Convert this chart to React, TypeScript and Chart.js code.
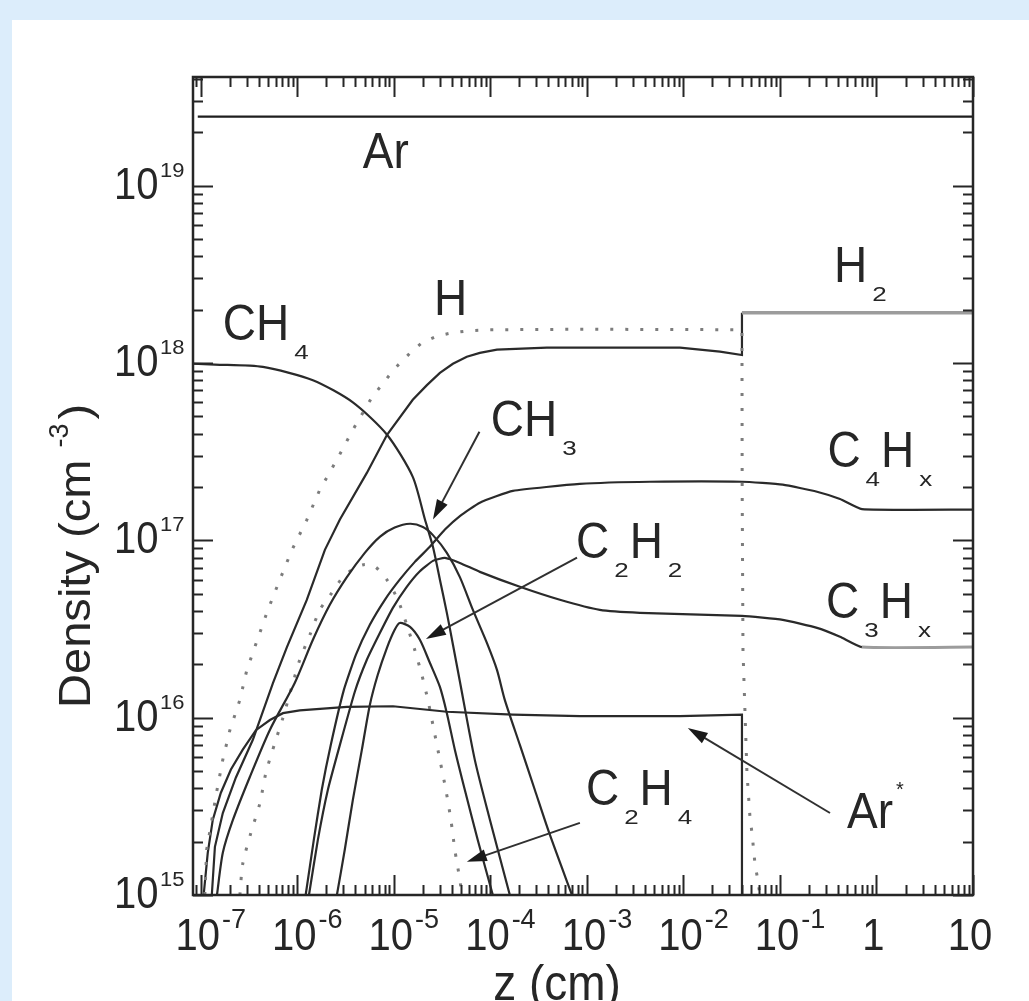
import { useEffect, useRef } from 'react';
import { Chart, registerables } from 'chart.js';

Chart.register(...registerables);

const FONT = '"Liberation Sans", Arial, Helvetica, sans-serif';
const INK = '#262626';

// ---- axis ranges & tick labels ----
const xMin = 8.3e-8;
const xMax = 10;
const yMin = 1e15;
const yMax = 4.1e19;

const xTickValues = [1e-7, 1e-6, 1e-5, 1e-4, 1e-3, 1e-2, 1e-1, 1, 10];
const xTickBases = ['10', '10', '10', '10', '10', '10', '10', '1', '10'];
const xTickExps = ['-7', '-6', '-5', '-4', '-3', '-2', '-1', '', ''];
const yTickValues = [1e15, 1e16, 1e17, 1e18, 1e19];
const yTickBases = ['10', '10', '10', '10', '10'];
const yTickExps = ['15', '16', '17', '18', '19'];

// ---- series (z in cm, density in cm^-3) ----
const arZ = [9.3e-8, 10];
const arN = [2.45e19, 2.45e19];

const hZ = [1.1e-7, 1.15e-7, 1.3e-7, 1.47e-7, 1.69e-7, 2.0e-7, 2.54e-7, 3.0e-7, 3.9e-7, 4.95e-7, 6.59e-7, 8.77e-7, 1.25e-6, 1.71e-6, 2.57e-6, 3.76e-6, 5.92e-6, 1.02e-5, 1.5e-5, 1.95e-5, 2.8e-5, 4.0e-5, 6.0e-5, 9.9e-5, 1e-3, 0.0404, 0.0406, 0.0414, 0.0455, 0.0489, 0.0513, 0.0551, 0.0592, 0.062];
const hN = [1e15, 1.8e15, 2.65e15, 3.9e15, 5.8e15, 8.5e15, 1.26e16, 1.86e16, 2.8e16, 4.05e16, 6e16, 8.8e16, 1.3e17, 1.93e17, 2.85e17, 4.2e17, 6.4e17, 9.3e17, 1.15e18, 1.3e18, 1.42e18, 1.48e18, 1.52e18, 1.54e18, 1.55e18, 1.54e18, 2.0e17, 2.4e16, 4.9e15, 2.75e15, 2.24e15, 1.5e15, 1.2e15, 1e15];

const h2Z = [1.3e-7, 1.4e-7, 1.69e-7, 2.31e-7, 3.46e-7, 5.6e-7, 7.8e-7, 1.25e-6, 1.93e-6, 2.76e-6, 5.25e-6, 8.5e-6, 1.57e-5, 2.2e-5, 3.0e-5, 4.09e-5, 5.7e-5, 7.78e-5, 1.17e-4, 3.85e-4, 9.2e-3, 0.0239, 0.0404, 0.0404, 10];
const h2N = [1e15, 1.87e15, 2.9e15, 4.6e15, 7.5e15, 1.57e16, 2.5e16, 4.6e16, 8.84e16, 1.31e17, 2.4e17, 3.94e17, 6.2e17, 7.5e17, 8.8e17, 9.9e17, 1.085e18, 1.14e18, 1.19e18, 1.22e18, 1.22e18, 1.16e18, 1.11e18, 1.92e18, 1.92e18];

const arsZ = [1.07e-7, 1.18e-7, 1.33e-7, 1.61e-7, 2.05e-7, 2.72e-7, 3.72e-7, 5.2e-7, 7.1e-7, 1.06e-6, 3.26e-6, 9.8e-6, 3.54e-5, 1.71e-4, 8.46e-4, 9.2e-3, 0.0404, 0.0404];
const arsN = [1e15, 1.73e15, 2.65e15, 3.76e15, 5.1e15, 6.6e15, 8.5e15, 9.7e15, 1.06e16, 1.1e16, 1.15e16, 1.16e16, 1.08e16, 1.04e16, 1.02e16, 1.02e16, 1.04e16, 1e15];

const ch4Z = [8.3e-8, 1.4e-7, 4.4e-7, 1.45e-6, 3.76e-6, 8.5e-6, 1.57e-5, 2.1e-5, 2.54e-5, 3.0e-5, 3.54e-5, 4.1e-5, 4.8e-5, 6.9e-5, 9.9e-5, 1.59e-4];
const ch4N = [9.9e17, 9.8e17, 9.5e17, 8.0e17, 6.0e17, 3.94e17, 2.28e17, 1.31e17, 9.2e16, 6.0e16, 3.9e16, 2.57e16, 1.63e16, 5.78e15, 2.65e15, 1e15];

const ch3Z = [1.47e-7, 1.69e-7, 2.15e-7, 3.22e-7, 5.19e-7, 9.4e-7, 1.45e-6, 2.17e-6, 3.26e-6, 5.0e-6, 7.2e-6, 1.02e-5, 1.47e-5, 2.0e-5, 2.54e-5, 3.54e-5, 4.83e-5, 6.59e-5, 9.2e-5, 1.17e-4, 1.41e-4, 2.02e-4, 2.89e-4, 4.14e-4, 7.0e-4];
const ch3N = [1e15, 1.73e15, 2.65e15, 4.63e15, 8.53e15, 1.57e16, 2.75e16, 4.33e16, 6.2e16, 8.5e16, 1.05e17, 1.18e17, 1.24e17, 1.19e17, 1.07e17, 8.5e16, 6.2e16, 4.05e16, 2.64e16, 1.86e16, 1.26e16, 7.02e15, 3.91e15, 2.18e15, 1e15];

const c2h2Z = [2.57e-6, 3.1e-6, 3.76e-6, 4.66e-6, 5.64e-6, 6.8e-6, 8.46e-6, 1.02e-5, 1.15e-5, 1.47e-5, 1.86e-5, 2.36e-5, 3.0e-5, 3.54e-5, 4.29e-5, 5.44e-5, 7.4e-5, 1.06e-4];
const c2h2N = [1e15, 1.8e15, 3.44e15, 6.58e15, 1.18e16, 1.74e16, 2.47e16, 3.13e16, 3.42e16, 3.25e16, 2.75e16, 2.04e16, 1.49e16, 1.06e16, 6.58e15, 3.91e15, 2.04e15, 1e15];

const c2h4Z = [2.54e-7, 2.72e-7, 3.3e-7, 4.1e-7, 4.72e-7, 5.85e-7, 7.1e-7, 9.0e-7, 1.06e-6, 1.35e-6, 1.71e-6, 2.28e-6, 2.96e-6, 3.94e-6, 5.0e-6, 6.4e-6, 8.46e-6, 1.1e-5, 1.36e-5, 1.65e-5, 1.95e-5, 2.25e-5, 2.6e-5, 3.0e-5, 3.46e-5, 3.9e-5, 4.29e-5, 4.83e-5, 5.07e-5];
const c2h4N = [1e15, 1.5e15, 2.24e15, 3.3e15, 4.88e15, 7.2e15, 1e16, 1.57e16, 2.12e16, 2.93e16, 4.05e16, 5.06e16, 6.2e16, 7.0e16, 7.3e16, 7.1e16, 6.0e16, 4.62e16, 3.34e16, 2.4e16, 1.74e16, 1.26e16, 8.53e15, 5.78e15, 3.91e15, 2.65e15, 1.79e15, 1.215e15, 1e15];

const c4Z = [1.22e-6, 1.48e-6, 1.79e-6, 2.22e-6, 3.03e-6, 4.04e-6, 5.64e-6, 8.07e-6, 1.15e-5, 1.65e-5, 2.36e-5, 3.38e-5, 4.83e-5, 7.78e-5, 1.71e-4, 8.46e-4, 4.5e-3, 0.0404, 0.107, 0.242, 0.419, 0.707, 10];
const c4N = [1e15, 2.04e15, 3.91e15, 7.02e15, 1.43e16, 2.26e16, 3.34e16, 4.62e16, 6.0e16, 7.56e16, 9.2e16, 1.15e17, 1.37e17, 1.63e17, 1.9e17, 2.08e17, 2.14e17, 2.14e17, 2.06e17, 1.88e17, 1.71e17, 1.5e17, 1.49e17];

const c3Z = [1.32e-6, 1.63e-6, 2.07e-6, 2.76e-6, 3.94e-6, 5.25e-6, 7.16e-6, 9.77e-6, 1.36e-5, 1.86e-5, 2.54e-5, 3.38e-5, 4.83e-5, 7.78e-5, 2.02e-4, 5.25e-4, 1.36e-3, 3.54e-3, 0.0404, 0.107, 0.242, 0.419, 0.707, 10];
const c3N = [1e15, 2.04e15, 3.91e15, 7.02e15, 1.4e16, 2.12e16, 3.0e16, 4.16e16, 5.47e16, 6.7e16, 7.66e16, 7.96e16, 7.46e16, 6.64e16, 5.47e16, 4.62e16, 4.05e16, 3.9e16, 3.75e16, 3.56e16, 3.21e16, 2.86e16, 2.5e16, 2.5e16];

// ---- in-plot labels (anchor = left end of text baseline, in data units) ----
type Part = [string, 'n' | 'b' | 'p'];
const labelParts: Part[][] = [
  [['Ar', 'n']],
  [['H', 'n']],
  [['CH', 'n'], ['4', 'b']],
  [['CH', 'n'], ['3', 'b']],
  [['H', 'n'], ['2', 'b']],
  [['C', 'n'], ['4', 'b'], ['H', 'n'], ['x', 'b']],
  [['C', 'n'], ['3', 'b'], ['H', 'n'], ['x', 'b']],
  [['C', 'n'], ['2', 'b'], ['H', 'n'], ['2', 'b']],
  [['C', 'n'], ['2', 'b'], ['H', 'n'], ['4', 'b']],
  [['Ar', 'n'], ['*', 'p']],
];
const labelZ = [4.77e-6, 2.6e-5, 1.69e-7, 1.01e-4, 0.363, 0.31, 0.30, 7.7e-4, 9.77e-4, 0.495];
const labelN = [1.25e19, 1.87e18, 1.34e18, 3.89e17, 2.85e18, 2.6e17, 3.65e16, 8.0e16, 3.22e15, 2.39e15];

// ---- arrows (tail -> head, data units) ----
const arrowFromZ = [7.7e-5, 7.9e-4, 8.46e-4, 0.33];
const arrowFromN = [4.1e17, 8.0e16, 2.55e15, 2.9e15];
const arrowToZ = [2.54e-5, 2.15e-5, 5.7e-5, 0.0111];
const arrowToN = [1.31e17, 2.78e16, 1.54e15, 8.75e15];

const zip = (xs: number[], ys: number[]) => xs.map((v, i) => ({ x: v, y: ys[i] }));

const PART: Record<string, { size: number; sy: number; dy: number; pre: number; post: number }> = {
  n: { size: 46, sy: 1.1, dy: 0, pre: 0, post: 0 },
  b: { size: 26, sy: 0.8, dy: 19, pre: 5, post: 1 },
  p: { size: 20, sy: 1, dy: -32, pre: 3, post: 0 },
};

function txt(ctx: CanvasRenderingContext2D, s: string, x: number, y: number, size: number, sx = 1, sy = 1) {
  ctx.font = `${size}px ${FONT}`;
  ctx.save();
  ctx.translate(x, y);
  ctx.scale(sx, sy);
  ctx.fillText(s, 0, 0);
  ctx.restore();
  return ctx.measureText(s).width * sx;
}

function arrow(ctx: CanvasRenderingContext2D, x1: number, y1: number, x2: number, y2: number) {
  const ang = Math.atan2(y2 - y1, x2 - x1);
  const L = 20;
  const W = 6;
  const bx = x2 - L * Math.cos(ang);
  const by = y2 - L * Math.sin(ang);
  ctx.beginPath();
  ctx.moveTo(x1, y1);
  ctx.lineTo(bx + 2 * Math.cos(ang), by + 2 * Math.sin(ang));
  ctx.stroke();
  ctx.beginPath();
  ctx.moveTo(x2, y2);
  ctx.lineTo(bx + W * Math.sin(ang), by - W * Math.cos(ang));
  ctx.lineTo(bx - W * Math.sin(ang), by + W * Math.cos(ang));
  ctx.closePath();
  ctx.fill();
}

const decorPlugin = {
  id: 'decor',
  afterDatasetsDraw(chart: any) {
    const ctx: CanvasRenderingContext2D = chart.ctx;
    const a = chart.chartArea;
    const xs = chart.scales.x;
    const ys = chart.scales.y;
    ctx.save();
    ctx.strokeStyle = INK;
    ctx.fillStyle = INK;
    ctx.lineCap = 'butt';

    // frame
    ctx.lineWidth = 2.5;
    ctx.strokeRect(a.left, a.top, a.right - a.left, a.bottom - a.top);

    // inward ticks on all four sides
    ctx.lineWidth = 2;
    ctx.beginPath();
    for (let d = Math.floor(Math.log10(xMin)); d <= Math.ceil(Math.log10(xMax)); d++) {
      for (let m = 1; m <= 9; m++) {
        const v = m * Math.pow(10, d);
        if (v < xMin * 0.999 || v > xMax * 1.001) continue;
        const px = Math.round(xs.getPixelForValue(v)) + 0.5;
        const len = m === 1 ? 20 : 10;
        ctx.moveTo(px, a.top);
        ctx.lineTo(px, a.top + len);
        ctx.moveTo(px, a.bottom);
        ctx.lineTo(px, a.bottom - len);
      }
    }
    for (let d = Math.floor(Math.log10(yMin)); d <= Math.ceil(Math.log10(yMax)); d++) {
      for (let m = 1; m <= 9; m++) {
        const v = m * Math.pow(10, d);
        if (v < yMin * 0.999 || v > yMax * 1.001) continue;
        const py = Math.round(ys.getPixelForValue(v)) + 0.5;
        const len = m === 1 ? 20 : 10;
        ctx.moveTo(a.left, py);
        ctx.lineTo(a.left + len, py);
        ctx.moveTo(a.right, py);
        ctx.lineTo(a.right - len, py);
      }
    }
    ctx.stroke();

    // tick labels
    ctx.textAlign = 'left';
    ctx.textBaseline = 'alphabetic';
    xTickValues.forEach((v, i) => {
      const px = xs.getPixelForValue(v);
      ctx.font = `40px ${FONT}`;
      const w = ctx.measureText(xTickBases[i]).width;
      const left = px - 3 - w / 2;
      txt(ctx, xTickBases[i], left, 950, 40, 1, 1.1);
      if (xTickExps[i]) txt(ctx, xTickExps[i], left + w + 2, 928, 27, 1, 1);
    });
    yTickValues.forEach((v, i) => {
      const py = ys.getPixelForValue(v);
      ctx.font = `40px ${FONT}`;
      const w = ctx.measureText(yTickBases[i]).width;
      txt(ctx, yTickBases[i], 158.5 - w, py + 13, 40, 1, 1.1);
      txt(ctx, yTickExps[i], 160, py - 9, 22, 1, 0.95);
    });

    // axis titles
    ctx.font = `46px ${FONT}`;
    const xt = 'z (cm)';
    const xw = ctx.measureText(xt).width;
    txt(ctx, xt, 557 - xw / 2, 1000, 46, 1, 1.1);

    ctx.save();
    ctx.translate(90, 708);
    ctx.rotate(-Math.PI / 2);
    let cx = txt(ctx, 'Density (cm', 0, 0, 44, 1.07, 1);
    cx += 12;
    cx += txt(ctx, '-3', cx, -22, 27, 1, 1);
    cx += 4;
    txt(ctx, ')', cx, 0, 44, 1.07, 1);
    ctx.restore();

    // species labels
    labelParts.forEach((parts, i) => {
      let x0 = xs.getPixelForValue(labelZ[i]);
      const y0 = ys.getPixelForValue(labelN[i]);
      parts.forEach(([s, k]) => {
        const st = PART[k];
        x0 += st.pre;
        x0 += txt(ctx, s, x0, y0 + st.dy, st.size, 1, st.sy);
        x0 += st.post;
      });
    });

    // arrows
    ctx.lineWidth = 2;
    ctx.strokeStyle = '#303030';
    ctx.fillStyle = '#1a1a1a';
    arrowFromZ.forEach((z, i) => {
      arrow(
        ctx,
        xs.getPixelForValue(z),
        ys.getPixelForValue(arrowFromN[i]),
        xs.getPixelForValue(arrowToZ[i]),
        ys.getPixelForValue(arrowToN[i])
      );
    });
    ctx.restore();
  },
};

const solid = (data: { x: number; y: number }[], extra: any = {}) => ({
  data,
  showLine: true,
  borderColor: '#2a2a2a',
  borderWidth: 2.2,
  pointRadius: 0,
  tension: 0.25,
  fill: false,
  ...extra,
});

const dotted = (data: { x: number; y: number }[], extra: any = {}) => ({
  data,
  showLine: true,
  borderColor: '#7c7c7c',
  borderWidth: 3,
  borderDash: [3, 12],
  pointRadius: 0,
  tension: 0.25,
  fill: false,
  ...extra,
});

export default function App() {
  const ref = useRef<HTMLCanvasElement>(null);
  useEffect(() => {
    if (!ref.current) return;
    const chart = new Chart(ref.current, {
      type: 'scatter',
      data: {
        datasets: [
          solid(zip(arZ, arN), { borderColor: '#1e1e1e', tension: 0 }),
          dotted(zip(hZ, hN), { tension: 0 }),
          solid(zip(h2Z, h2N), {
            tension: 0,
            segment: {
              borderColor: (c: any) => (c.p0.parsed.y > 1.5e18 && c.p1.parsed.y > 1.5e18 ? '#9c9c9c' : undefined),
              borderWidth: (c: any) => (c.p0.parsed.y > 1.5e18 && c.p1.parsed.y > 1.5e18 ? 3.5 : undefined),
            },
          }),
          solid(zip(arsZ, arsN), { tension: 0 }),
          solid(zip(ch4Z, ch4N)),
          solid(zip(ch3Z, ch3N)),
          solid(zip(c2h2Z, c2h2N)),
          dotted(zip(c2h4Z, c2h4N)),
          solid(zip(c4Z, c4N), { tension: 0.15 }),
          solid(zip(c3Z, c3N), {
            tension: 0.15,
            segment: {
              borderColor: (c: any) => (c.p0.parsed.x >= 0.7 ? '#9c9c9c' : undefined),
              borderWidth: (c: any) => (c.p0.parsed.x >= 0.7 ? 3 : undefined),
            },
          }),
        ],
      },
      options: {
        responsive: false,
        devicePixelRatio: 1,
        animation: false,
        events: [],
        layout: { padding: { left: 193, top: 77, right: 56, bottom: 106 } },
        scales: {
          x: { type: 'logarithmic', min: xMin, max: xMax, display: false },
          y: { type: 'logarithmic', min: yMin, max: yMax, display: false },
        },
        plugins: { legend: { display: false }, tooltip: { enabled: false } },
      },
      plugins: [decorPlugin],
    } as any);
    return () => chart.destroy();
  }, []);

  return (
    <div
      style={{
        position: 'fixed',
        left: 0,
        top: 0,
        width: 1029,
        height: 1001,
        background: '#dcedfb',
        overflow: 'hidden',
      }}
    >
      <div style={{ position: 'absolute', left: 12, top: 20, right: 0, bottom: 0, background: '#ffffff' }} />
      <canvas
        ref={ref}
        width={1029}
        height={1001}
        style={{ position: 'absolute', left: 0, top: 0, width: 1029, height: 1001 }}
      />
    </div>
  );
}
